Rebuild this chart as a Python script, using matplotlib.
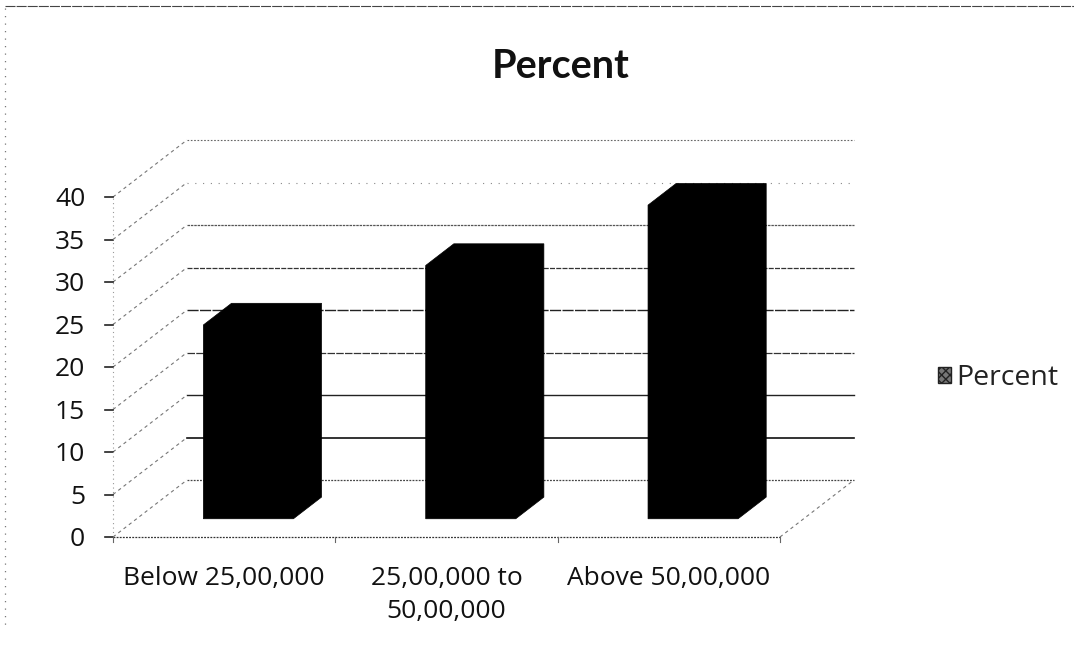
"""
Percent by income band, drawn as an oblique 3D column chart
"""
import matplotlib
matplotlib.use('Agg')
import matplotlib.pyplot as plt
from matplotlib.lines import Line2D
from matplotlib.patches import Patch, Polygon

categories = ['Below 25,00,000', '25,00,000 to\n50,00,000', 'Above 50,00,000']
percent = [22.8, 29.8, 36.9]
y_ticks = [0, 5, 10, 15, 20, 25, 30, 35, 40]

# pixel scale of the front plane
W, H = 1074, 648
X0, PX_CAT = 113, 222.33
Y0, PX_VAL = 537, 8.5
# how far the back wall is shifted, in data units
DEPTH_X = 74 / PX_CAT
DEPTH_Y = 57 / PX_VAL

# wall grid lines get rougher towards the top
grid_styles = {
    0: ('#444444', 0.9, (0, (1.5, 1))),
    5: ('#111111', 1.2, '-'),
    10: ('#222222', 1.0, '-'),
    15: ('#333333', 0.9, (0, (6, 1))),
    20: ('#222222', 1.0, (0, (8, 1))),
    25: ('#333333', 0.9, (0, (4, 1))),
    30: ('#555555', 0.9, (0, (2, 0.7))),
    35: ('#888888', 0.8, (0, (1, 6))),
    40: ('#666666', 0.8, (0, (1.5, 1.5))),
}


def project(x, value, depth=0.0):
    return x + DEPTH_X * depth, value + DEPTH_Y * depth


def draw_column(ax, i, value, left=0.30, right=0.705, d0=0.32, d1=0.70):
    # only the outline is needed since every face is solid black
    x0, x1 = i + left, i + right
    outline = [(x0, 0, d0), (x1, 0, d0), (x1, 0, d1),
               (x1, value, d1), (x0, value, d1), (x0, value, d0)]
    pts = [project(*p) for p in outline]
    ax.add_patch(Polygon(pts, closed=True, facecolor='black',
                         edgecolor='black', linewidth=0.5, zorder=5))


plt.rcParams['font.family'] = ['Open Sans', 'DejaVu Sans']
fig = plt.figure(figsize=(W / 100, H / 100), dpi=100, facecolor='white')
ax = fig.add_axes([0, 0, 1, 1])
ax.set_xlim(-X0 / PX_CAT, (W - X0) / PX_CAT)
ax.set_ylim((Y0 - H) / PX_VAL, Y0 / PX_VAL)
ax.axis('off')

n = len(categories)

# back wall and side wall grid
for v in y_ticks:
    color, lw, ls = grid_styles[v]
    x_a, y_a = project(0, v, 1)
    x_b, y_b = project(n, v, 1)
    ax.plot([x_a, x_b], [y_a, y_b], color=color, lw=lw, ls=ls, zorder=1)
    x_f, y_f = project(0, v, 0)
    ax.plot([x_f, x_a], [y_f, y_a], color='#777777', lw=0.8,
            ls=(0, (3, 3)), zorder=1)
    # tick mark and label on the value axis
    ax.plot([x_f - 0.035, x_f], [y_f, y_f], color='#222222', lw=1.2, zorder=2)
    ax.text(x_f - 0.125, y_f - 0.3, str(v), ha='right', va='center', fontsize=19,
            color='#111111')

# floor edges and axis lines
x_a, y_a = project(n, 0, 0)
x_b, y_b = project(n, 0, 1)
ax.plot([x_a, x_b], [y_a, y_b], color='#777777', lw=0.8, ls=(0, (3, 3)), zorder=1)
ax.plot([0, n], [0, 0], color='#333333', lw=0.9, ls=(0, (1.5, 1)), zorder=2)
ax.plot([0, 0], [0, y_ticks[-1]], color='#999999', lw=0.8, ls=(0, (1, 3)), zorder=2)
for i in range(n + 1):
    ax.plot([i, i], [0, -0.6], color='#666666', lw=0.8, zorder=2)

for i, value in enumerate(percent):
    draw_column(ax, i, value)

for i, label in enumerate(categories):
    ax.text(i + 0.5, -3.45, label, ha='center', va='top', fontsize=19,
            color='#111111', linespacing=1.4)

fig.text(561 / W, 1 - 66 / H, 'Percent', ha='center', va='center', fontsize=28.5,
         fontweight='bold', color='#111111', family=['Lato', 'DejaVu Sans'])

ax.legend(handles=[Patch(facecolor='#777777', edgecolor='#222222', hatch='xxxx',
                         label='Percent')],
          loc='center left', bbox_to_anchor=(938 / W, 1 - 378 / H), frameon=False,
          fontsize=20.5, handlelength=0.45, handleheight=0.45, handletextpad=0.18,
          borderpad=0, borderaxespad=0, labelcolor='#222222')

# page edges
fig.add_artist(Line2D([5 / W, 1], [1 - 6 / H, 1 - 6 / H], color='#444444', lw=0.8,
                      ls=(0, (9, 1))))
fig.add_artist(Line2D([5 / W, 5 / W], [1 - 8 / H, 1 - 625 / H], color='#777777',
                      lw=0.9, ls=(0, (1, 5))))

fig.savefig('out.png', dpi=100)
